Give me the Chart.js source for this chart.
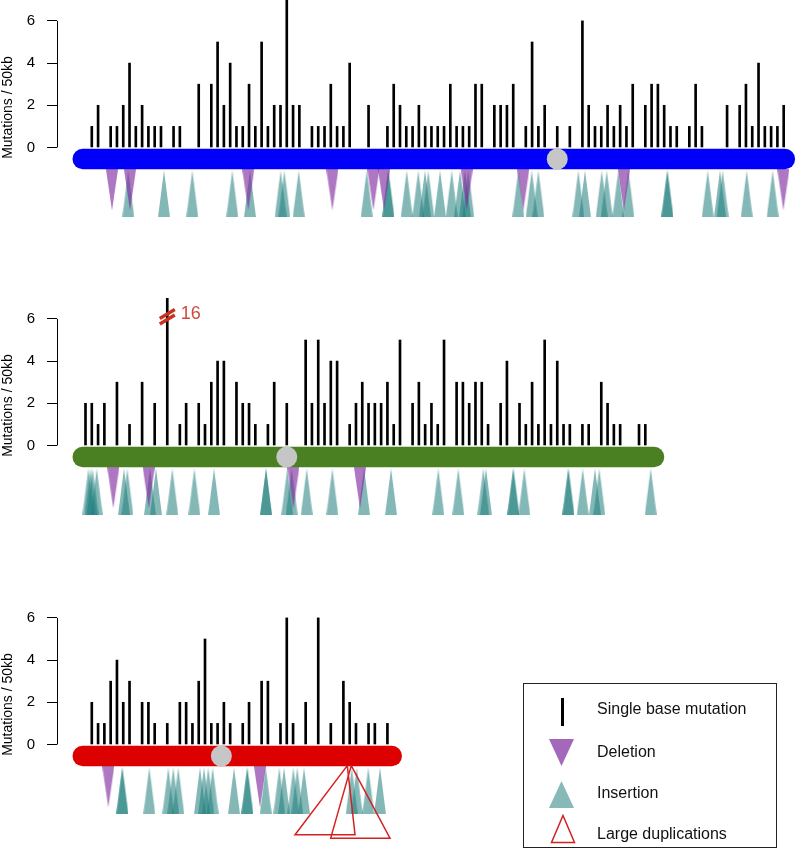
<!DOCTYPE html>
<html>
<head>
<meta charset="utf-8">
<script src="https://cdn.jsdelivr.net/npm/chart.js@4.4.0/dist/chart.umd.min.js"></script>
<style>
  body { margin: 0; background: #fff; font-family: "Liberation Sans", Arial, sans-serif; }
  #page { position: relative; width: 797px; height: 851px; overflow: hidden; }
  canvas { position: absolute; left: 0; }
  #legend { position: absolute; left: 523px; top: 683px; width: 252px; height: 163px; border: 1px solid #222; }
  #legend .icon { position: absolute; }
  #legend .txt { position: absolute; left: 73px; font-size: 16px; color: #111; transform: translateY(-50%); white-space: nowrap; }
</style>
</head>
<body>
<div id="page">
  <canvas id="chr1" width="797" height="245" style="top:0px"></canvas>
  <canvas id="chr2" width="797" height="245" style="top:298px"></canvas>
  <canvas id="chr3" width="797" height="254" style="top:597px"></canvas>
  <div id="legend">
    <div class="icon" style="left:37px; top:14px; width:3px; height:28px; background:#000"></div>
    <div class="txt" style="top:25px">Single base mutation</div>
    <svg class="icon" style="left:25px; top:55px" width="25" height="27"><polygon points="0,0 25,0 12.5,27" fill="#a468bb"/></svg>
    <div class="txt" style="top:68px">Deletion</div>
    <svg class="icon" style="left:25px; top:97px" width="25" height="27"><polygon points="12.5,0 25,27 0,27" fill="#87b9b8"/></svg>
    <div class="txt" style="top:109px">Insertion</div>
    <svg class="icon" style="left:26px; top:130px" width="26" height="30"><polygon points="13,1.5 24.5,28.5 1.5,28.5" fill="none" stroke="#d42020" stroke-width="1.5"/></svg>
    <div class="txt" style="top:150px">Large duplications</div>
  </div>
</div>
<script>
// Posições em unidades de janela de 50kb
// Cromossomo 1
const chr1Bins = [1,2,4,5,6,7,8,9,10,11,12,14,15,18,20,21,22,23,24,25,26,27,28,29,30,31,32,33,34,36,37,38,39,40,41,42,45,48,49,50,
  51,52,53,54,55,56,57,58,59,60,61,62,63,65,66,67,68,70,71,72,73,75,77,79,80,81,82,83,84,85,86,87,89,90,91,92,93,94,96,97,98,
  102,104,105,106,107,108,109,110,111];
const chr1Counts = [1,2,1,1,2,4,1,2,1,1,1,1,1,3,3,5,2,4,1,1,3,1,5,1,2,2,7,2,2,1,1,1,3,1,1,4,2,1,3,2,
  1,1,2,1,1,1,1,3,1,1,1,3,3,2,2,2,3,1,5,1,2,1,1,6,2,1,1,2,1,2,1,3,2,3,3,2,1,1,1,3,1,
  2,2,3,1,4,1,1,1,2];
const chr1Deletions = [4.21, 7.07, 25.88, 39.24, 45.76, 47.46, 60.6, 69.6, 85.61, 110.94];
const chr1Insertions = [6.80, 12.48, 16.98, 23.34, 26.15, 31.03, 31.61, 33.90, 44.71, 48.14, 48.14, 51.07, 52.91, 53.97, 54.50,
  56.36, 58.22, 59.54, 60.33, 60.86, 68.81, 70.94, 71.99, 78.35, 79.41, 82.07, 82.86, 84.71, 86.30, 92.50, 92.50,
  98.92, 100.87, 101.30, 105.12, 109.25];
const chr1Span = [-0.45, 111.2];
const chr1Centromere = 75.0;

// Cromossomo 2
const chr2Bins = [0,1,2,3,5,7,9,11,13,15,16,18,19,20,21,22,24,25,26,27,29,30,32,35,36,37,38,39,40,42,43,44,45,46,47,48,49,50,
  52,53,54,55,56,57,59,60,61,62,63,64,66,67,69,70,71,72,73,74,75,76,77,79,80,82,83,84,85,88,89];
const chr2Counts = [2,2,1,2,3,1,3,2,16,1,2,2,1,3,4,4,3,2,2,1,1,3,2,5,2,5,2,4,4,1,2,3,2,2,2,3,1,5,
  2,3,1,2,1,5,3,3,2,3,3,1,2,4,2,1,3,1,5,1,4,1,1,1,1,3,2,1,1,1,1];
const chr2Deletions = [4.42, 10.05, 33.04, 43.64];
const chr2Insertions = [0.45, 0.8, 1.14, 1.78, 6.12, 6.65, 10.25, 11.2, 13.80, 17.30, 20.43, 28.70, 28.70, 32.08, 32.78,
  35.17, 39.24, 44.28, 48.57, 56.09, 59.27, 63.24, 63.67, 68.01, 68.01, 69.76, 76.76, 76.76, 79.05, 81.0, 81.68, 89.86];
const chr2Span = [-0.45, 90.4];
const chr2Centromere = 32.0;
const chr2BrokenBin = 13;   // barra cortada (16 mutações)

// Cromossomo 3
const chr3Bins = [1,2,3,4,5,6,7,9,10,11,13,15,16,17,18,19,20,21,22,23,25,26,28,29,31,32,33,35,37,39,41,42,43,45,46,48];
const chr3Counts = [2,1,1,3,4,2,3,2,2,1,1,2,2,1,3,5,1,1,2,1,1,2,3,3,1,6,1,2,6,1,3,2,1,1,1,1];
const chr3Deletions = [3.62, 27.74];
const chr3Insertions = [5.85, 5.85, 10.14, 13.16, 13.96, 14.75, 18.2, 18.84, 19.52, 20.22, 23.61, 25.72, 25.72, 28.65,
  30.81, 31.56, 33.04, 33.67, 34.74, 42.32, 43.12, 44.96, 46.82];
const chr3Span = [-0.45, 48.7];
const chr3Centromere = 21.6;
// Duplicações grandes (cromossomo 3)
const dupApex = [41.62, 42.25];
const dupStart = [33.31, 38.98];
const dupEnd = [42.85, 48.41];

const yTicks = [0, 2, 4, 6];

// Estilo / layout
const FONT = '"Liberation Sans", Arial, sans-serif';
const X_MIN = -4.531, X_MAX = 113.116;
const Y_MIN = -3.2, Y_MAX = 6.99;
const CHROM_Y = -0.545;
const DEL_Y = -2.014, INS_Y = -2.197;
const DUP_TOP = -1.0, dupBaseY = [-4.28, -4.44];
const delColor = 'rgba(125, 35, 155, 0.62)';
const insColor = 'rgba(30, 125, 124, 0.55)';

function makeTriangle(w, h, color, down) {
    const c = document.createElement('canvas');
    c.width = w; c.height = h;
    const g = c.getContext('2d');
    g.fillStyle = color;
    g.beginPath();
    if (down) { g.moveTo(0, 0); g.lineTo(w, 0); g.lineTo(w / 2, h); }
    else { g.moveTo(w / 2, 0); g.lineTo(w, h); g.lineTo(0, h); }
    g.closePath();
    g.fill();
    return c;
}
const delImg = makeTriangle(12, 41, delColor, true);
const insImg = makeTriangle(12, 47, insColor, false);

// linha do eixo y só entre 0 e 6 (estilo R)
const axisLinePlugin = {
    id: 'axisLine',
    afterDraw(chart) {
        const y = chart.scales.y, ctx = chart.ctx, x = Math.round(chart.chartArea.left) + 0.5;
        ctx.save();
        ctx.strokeStyle = '#000';
        ctx.lineWidth = 1;
        ctx.beginPath();
        ctx.moveTo(x, y.getPixelForValue(yTicks[0]));
        ctx.lineTo(x, y.getPixelForValue(yTicks[yTicks.length - 1]));
        ctx.stroke();
        ctx.restore();
    }
};

// marca de quebra "//" e rótulo 16
function breakPlugin(bin, value) {
    return {
        id: 'breakMark',
        afterDatasetsDraw(chart) {
            const ctx = chart.ctx;
            const px = chart.scales.x.getPixelForValue(bin);
            const py = chart.scales.y.getPixelForValue(6.1);
            ctx.save();
            ctx.strokeStyle = '#c8321f';
            ctx.lineWidth = 3.4;
            [-2.8, 2.8].forEach(off => {
                ctx.beginPath();
                ctx.moveTo(px - 7.5, py + off + 4.5);
                ctx.lineTo(px + 7.5, py + off - 4.5);
                ctx.stroke();
            });
            ctx.fillStyle = '#d2483b';
            ctx.font = '18px ' + FONT;
            ctx.textBaseline = 'middle';
            ctx.textAlign = 'left';
            ctx.fillText(String(value), px + 13.5, py - 3);
            ctx.restore();
        }
    };
}

function buildPanel(id, bins, counts, dels, ins, span, centro, color, extra, plugins) {
    const datasets = [
        {
            type: 'bar',
            data: bins.map((b, i) => ({ x: b, y: counts[i] })),
            backgroundColor: '#000',
            barThickness: 2,
            grouped: false,
            order: 5
        },
        {
            type: 'scatter',
            data: ins.map(b => ({ x: b, y: INS_Y })),
            pointStyle: insImg,
            pointRadius: 5,
            clip: false,
            order: 4
        },
        {
            type: 'scatter',
            data: dels.map(b => ({ x: b, y: DEL_Y })),
            pointStyle: delImg,
            pointRadius: 5,
            clip: false,
            order: 3
        },
        {
            type: 'line',
            data: span.map(b => ({ x: b, y: CHROM_Y })),
            borderColor: color,
            borderWidth: 20.3,
            borderCapStyle: 'round',
            pointRadius: 0,
            showLine: true,
            clip: false,
            order: 2
        },
        {
            type: 'scatter',
            data: [{ x: centro, y: CHROM_Y }],
            backgroundColor: '#c6c6c6',
            borderWidth: 0,
            pointRadius: 10.5,
            clip: false,
            order: 0
        }
    ].concat(extra || []);

    return new Chart(document.getElementById(id), {
        type: 'scatter',
        data: { datasets: datasets },
        options: {
            responsive: false,
            animation: false,
            events: [],
            layout: { autoPadding: false, padding: { left: 0, right: 0, top: 0, bottom: document.getElementById(id).height - 215 } },
            plugins: { legend: { display: false }, tooltip: { enabled: false } },
            scales: {
                x: {
                    type: 'linear',
                    min: X_MIN,
                    max: X_MAX,
                    offset: false,
                    grid: { offset: false },
                    display: false,
                    ticks: { display: false }
                },
                y: {
                    type: 'linear',
                    min: Y_MIN,
                    max: Y_MAX,
                    offset: false,
                    afterBuildTicks: (scale) => { scale.ticks = yTicks.map(v => ({ value: v })); },
                    afterFit: (scale) => { scale.width = 57; scale.paddingTop = 0; scale.paddingBottom = 0; },
                    ticks: { color: '#000', font: { size: 15, family: FONT }, padding: 12 },
                    grid: { display: true, drawOnChartArea: false, drawTicks: true, tickLength: 10, color: '#000', lineWidth: 1 },
                    border: { display: false },
                    title: { display: true, text: 'Mutations / 50kb', color: '#000', font: { size: 14, family: FONT }, padding: 0 }
                }
            }
        },
        plugins: [axisLinePlugin].concat(plugins || [])
    });
}

// triângulos de duplicação (contorno vermelho)
const dupDatasets = dupApex.map((a, i) => ({
    type: 'line',
    data: [
        { x: a, y: DUP_TOP },
        { x: dupStart[i], y: dupBaseY[i] },
        { x: dupEnd[i], y: dupBaseY[i] },
        { x: a, y: DUP_TOP }
    ],
    borderColor: '#d42020',
    borderWidth: 1.5,
    borderJoinStyle: 'miter',
    pointRadius: 0,
    tension: 0,
    fill: false,
    showLine: true,
    clip: false,
    order: 1
}));

buildPanel('chr1', chr1Bins, chr1Counts, chr1Deletions, chr1Insertions, chr1Span, chr1Centromere, '#0000fa');
buildPanel('chr2', chr2Bins, chr2Counts, chr2Deletions, chr2Insertions, chr2Span, chr2Centromere, '#4a7f22', [],
    [breakPlugin(chr2BrokenBin, chr2Counts[chr2Bins.indexOf(chr2BrokenBin)])]);
buildPanel('chr3', chr3Bins, chr3Counts, chr3Deletions, chr3Insertions, chr3Span, chr3Centromere, '#dc0000', dupDatasets);
</script>
</body>
</html>
